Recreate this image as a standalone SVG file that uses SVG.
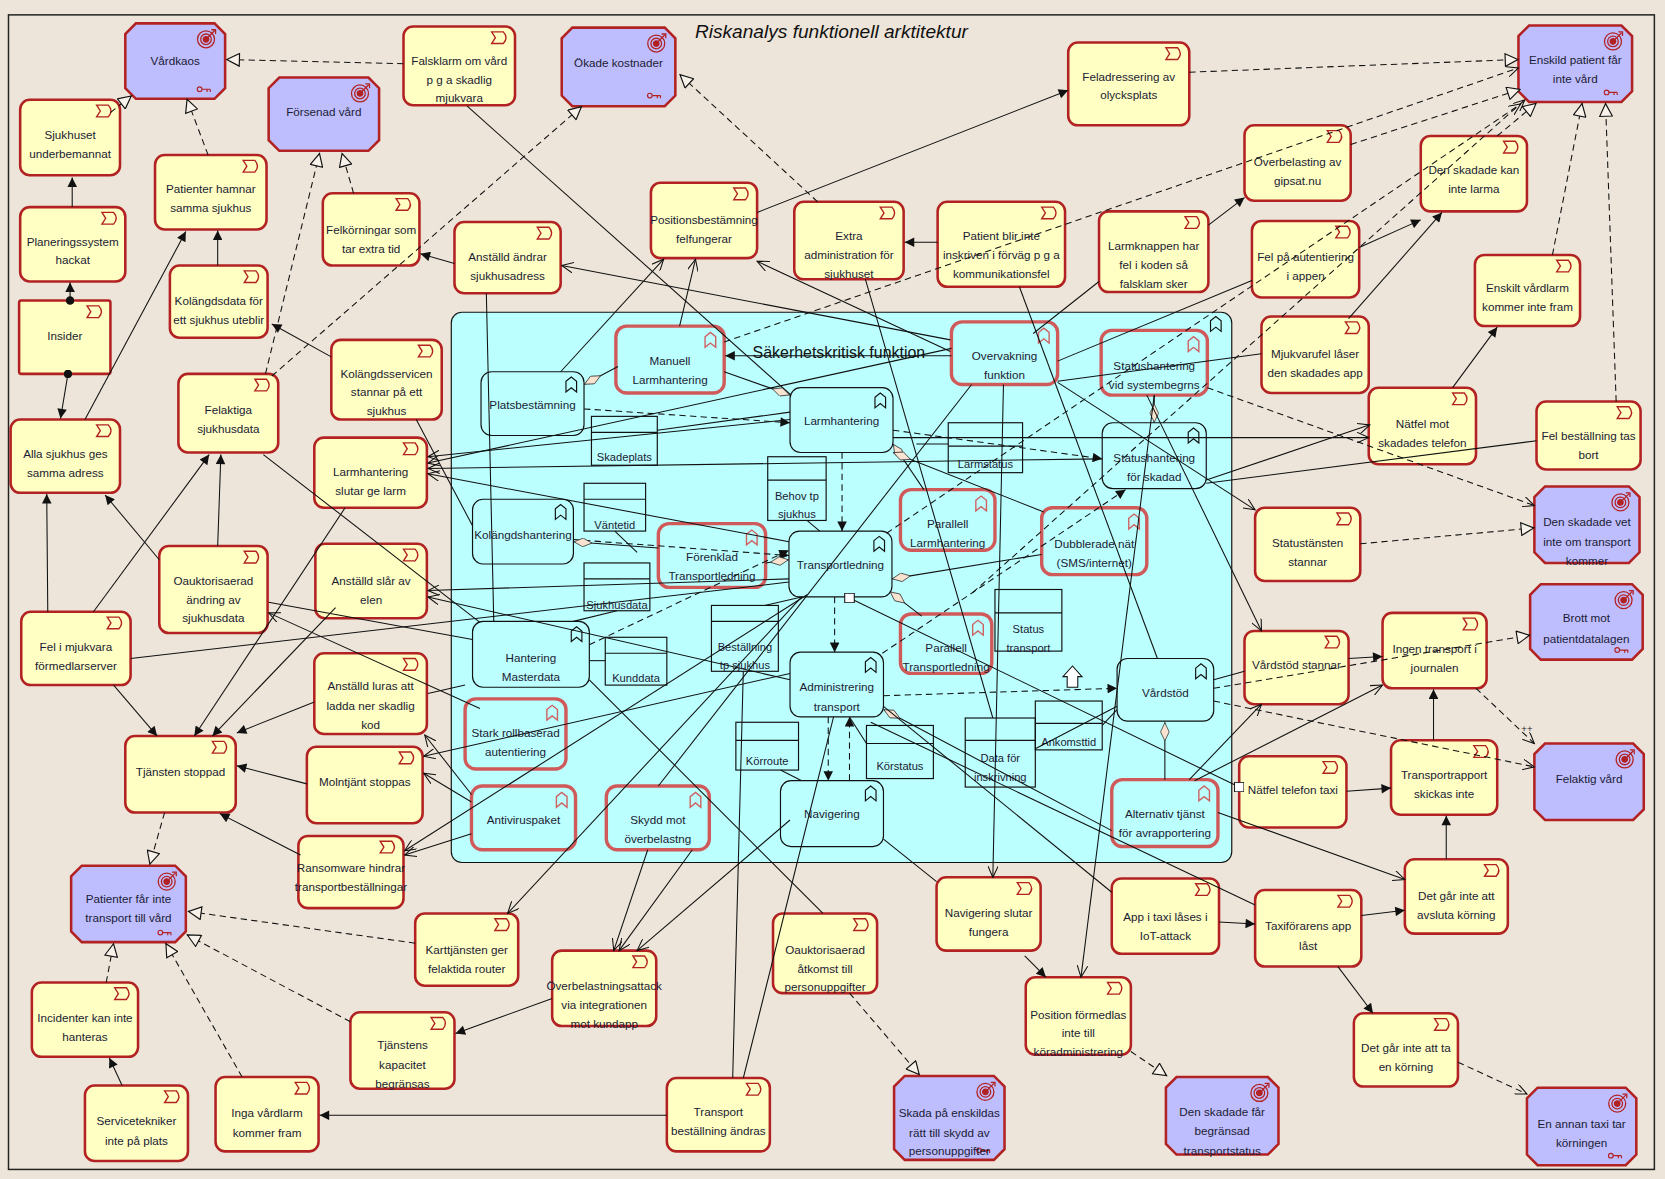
<svg xmlns="http://www.w3.org/2000/svg" width="1665" height="1179" viewBox="0 0 1665 1179">
<style>
text{font-family:"Liberation Sans",Arial,sans-serif;font-size:11px;fill:#1b1b33;text-anchor:middle}
.ttl{font-size:18px;font-style:italic;fill:#111}
.glb{font-size:15px;fill:#111}
.dt{font-size:10.5px}
.r rect{fill:#FFFFC4;stroke:#B22222;stroke-width:2.4}
.g polygon{fill:#BEBEFF;stroke:#B22222;stroke-width:2.4}
.p rect{fill:#BBFFFF;stroke:#D05A5A;stroke-width:3.2}
.f rect{fill:#BBFFFF;stroke:#111;stroke-width:1.1}
.d rect,.d path{fill:none;stroke:#111;stroke-width:1.1}
#edges path{fill:none;stroke:#111;stroke-width:1}
#edges .dsh{stroke-dasharray:6 4}
#edges .ht{marker-end:url(#ht)}
#edges .oa{marker-end:url(#oa)}
#edges .fa{marker-end:url(#fa)}
#edges .dm{marker-start:url(#dm)}
</style>
<defs>
<marker id="fa" viewBox="0 0 10 10" refX="10" refY="5" markerWidth="11" markerHeight="9" orient="auto" markerUnits="userSpaceOnUse"><path d="M0,0 L10,5 L0,10 z" fill="#111"/></marker>
<marker id="ht" viewBox="0 0 12 12" refX="12" refY="6" markerWidth="15" markerHeight="13" orient="auto" markerUnits="userSpaceOnUse"><path d="M0.5,0.5 L11.5,6 L0.5,11.5 z" fill="#F8F2EA" stroke="#111" stroke-width="1"/></marker>
<marker id="oa" viewBox="0 0 12 10" refX="11" refY="5" markerWidth="12" markerHeight="10" orient="auto" markerUnits="userSpaceOnUse"><path d="M0,0 L11,5 L0,10" fill="none" stroke="#111" stroke-width="1"/></marker>
<marker id="dm" viewBox="0 0 20 10" refX="0" refY="5" markerWidth="18" markerHeight="9" orient="auto" markerUnits="userSpaceOnUse"><path d="M0.5,5 L10,0.5 L19.5,5 L10,9.5 z" fill="#F8E2D0" stroke="#333" stroke-width="0.8"/></marker>
<marker id="dot" viewBox="0 0 10 10" refX="5" refY="5" markerWidth="8" markerHeight="8" markerUnits="userSpaceOnUse"><circle cx="5" cy="5" r="5" fill="#111"/></marker>
<marker id="sq" viewBox="0 0 10 10" refX="5" refY="5" markerWidth="10" markerHeight="10" markerUnits="userSpaceOnUse"><rect x="0.5" y="0.5" width="9" height="9" fill="#fff" stroke="#111"/></marker>
<g id="ev"><path d="M0,0 h11 q5,5.5 0,11 h-11 l3.5,-5.5 z" fill="none" stroke="#B22222" stroke-width="1.3"/></g>
<g id="tg" fill="none" stroke="#B22222" stroke-width="1.2"><circle r="8"/><circle r="5"/><circle r="2.6" fill="#B22222"/><path d="M0,0 L8,-8 M5,-9 L9,-9 L9,-5"/></g>
<g id="ky" fill="none" stroke="#B22222" stroke-width="1.1"><circle cx="-4" cy="0" r="2.2"/><path d="M-1.8,0 H6 M3,0 v2.5 M6,0 v2.5"/></g>
<g id="bmR"><path d="M0,4 L5,0 L10,4 V14 L5,10 L0,14 Z" fill="none" stroke="#D06060" stroke-width="1.3"/></g>
<g id="bmK"><path d="M0,4 L5,0 L10,4 V14 L5,10 L0,14 Z" fill="none" stroke="#111" stroke-width="1.1"/></g>
</defs>
<rect width="1665" height="1179" fill="#EDE5D9"/>
<g transform="scale(1.06186 1.06216)">
<rect x="8" y="14" width="1550" height="1087" fill="none" stroke="#222" stroke-width="1.4"/>
<text class="ttl" x="783" y="36">Riskanalys funktionell arktitektur</text>

<g id="grp-sakerhetskritisk" class="f">
<rect x="425" y="294" width="735" height="518" rx="10"/>
<use href="#bmK" x="1140" y="298"/>
<text class="glb" x="790" y="337">Säkerhetskritisk funktion</text>
</g>

<!-- Goals -->
<g id="g-vardkaos" class="g"><polygon points="128,22 202,22 212,32 212,83 202,93 128,93 118,83 118,32"/><use href="#tg" x="194" y="37"/><use href="#ky" x="192" y="84"/><text x="165" y="61">Vårdkaos</text></g>
<g id="g-forsenad" class="g"><polygon points="263,73 347,73 357,83 357,132 347,142 263,142 253,132 253,83"/><use href="#tg" x="339" y="88"/><text x="305" y="109">Försenad vård</text></g>
<g id="g-okade" class="g"><polygon points="539,26 626,26 636,36 636,90 626,100 539,100 529,90 529,36"/><use href="#tg" x="618" y="41"/><use href="#ky" x="616" y="90"/><text x="582.5" y="63">Ökade kostnader</text></g>
<g id="g-enskild" class="g"><polygon points="1440,24 1527,24 1537,34 1537,86 1527,96 1440,96 1430,86 1430,34"/><use href="#tg" x="1519" y="39"/><use href="#ky" x="1517" y="87"/><text x="1483.5" y="60">Enskild patient får</text><text x="1483.5" y="78">inte vård</text></g>
<g id="g-vetinte" class="g"><polygon points="1455,458 1534,458 1544,468 1544,520 1534,530 1455,530 1445,520 1445,468"/><use href="#tg" x="1526" y="473"/><text x="1494.5" y="495">Den skadade vet</text><text x="1494.5" y="514">inte om transport</text><text x="1494.5" y="532">kommer</text></g>
<g id="g-brott" class="g"><polygon points="1451,550 1537,550 1547,560 1547,611 1537,621 1451,621 1441,611 1441,560"/><use href="#tg" x="1529" y="565"/><use href="#ky" x="1527" y="612"/><text x="1494" y="586">Brott mot</text><text x="1494" y="605">patientdatalagen</text></g>
<g id="g-felaktigvard" class="g"><polygon points="1455,700 1538,700 1548,710 1548,762 1538,772 1455,772 1445,762 1445,710"/><use href="#tg" x="1530" y="715"/><text x="1496.5" y="737">Felaktig vård</text></g>
<g id="g-patienter" class="g"><polygon points="77,815 165,815 175,825 175,877 165,887 77,887 67,877 67,825"/><use href="#tg" x="157" y="830"/><use href="#ky" x="155" y="878"/><text x="121" y="850">Patienter får inte</text><text x="121" y="868">transport till vård</text></g>
<g id="g-skada" class="g"><polygon points="852,1013 936,1013 946,1023 946,1082 936,1092 852,1092 842,1082 842,1023"/><use href="#tg" x="928" y="1028"/><use href="#ky" x="926" y="1083"/><text x="894" y="1052">Skada på enskildas</text><text x="894" y="1070">rätt till skydd av</text><text x="894" y="1087">personuppgifter</text></g>
<g id="g-begransad" class="g"><polygon points="1108,1014 1194,1014 1204,1024 1204,1077 1194,1087 1108,1087 1098,1077 1098,1024"/><use href="#tg" x="1186" y="1029"/><text x="1151" y="1051">Den skadade får</text><text x="1151" y="1069">begränsad</text><text x="1151" y="1087">transportstatus</text></g>
<g id="g-annantaxi" class="g"><polygon points="1448,1024 1531,1024 1541,1034 1541,1087 1531,1097 1448,1097 1438,1087 1438,1034"/><use href="#tg" x="1523" y="1039"/><use href="#ky" x="1521" y="1088"/><text x="1489.5" y="1062">En annan taxi tar</text><text x="1489.5" y="1080">körningen</text></g>

<!-- Requirements / events -->
<g id="r-falsklarm" class="r"><rect x="380" y="25" width="105" height="74" rx="9"/><use href="#ev" x="463" y="30"/><text x="432.5" y="61">Falsklarm om vård</text><text x="432.5" y="79">p g a skadlig</text><text x="432.5" y="96">mjukvara</text></g>
<g id="r-sjukhuset" class="r"><rect x="19" y="94" width="94" height="71" rx="9"/><use href="#ev" x="91" y="99"/><text x="66" y="131">Sjukhuset</text><text x="66" y="149">underbemannat</text></g>
<g id="r-patienterhamnar" class="r"><rect x="146" y="146" width="105" height="70" rx="9"/><use href="#ev" x="229" y="151"/><text x="198.5" y="182">Patienter hamnar</text><text x="198.5" y="200">samma sjukhus</text></g>
<g id="r-planering" class="r"><rect x="19" y="195" width="99" height="70" rx="9"/><use href="#ev" x="96" y="200"/><text x="68.5" y="232">Planeringssystem</text><text x="68.5" y="249">hackat</text></g>
<g id="r-felkorningar" class="r"><rect x="304" y="182" width="91" height="68" rx="9"/><use href="#ev" x="373" y="187"/><text x="349.5" y="220">Felkörningar som</text><text x="349.5" y="238">tar extra tid</text></g>
<g id="r-anstalldandrar" class="r"><rect x="428" y="209" width="100" height="67" rx="9"/><use href="#ev" x="506" y="214"/><text x="478" y="246">Anställd ändrar</text><text x="478" y="264">sjukhusadress</text></g>
<g id="r-kolangdsdata" class="r"><rect x="160" y="250" width="92" height="68" rx="9"/><use href="#ev" x="230" y="255"/><text x="206" y="287">Kolängdsdata för</text><text x="206" y="305">ett sjukhus uteblir</text></g>
<g id="r-insider" class="r"><rect x="18" y="283" width="86" height="69" rx="2"/><use href="#ev" x="82" y="288"/><text x="61" y="320">Insider</text></g>
<g id="r-kolangdsservicen" class="r"><rect x="312" y="320" width="104" height="75" rx="9"/><use href="#ev" x="394" y="325"/><text x="364" y="356">Kolängdsservicen</text><text x="364" y="373">stannar på ett</text><text x="364" y="391">sjukhus</text></g>
<g id="r-felaktiga" class="r"><rect x="168" y="352" width="94" height="74" rx="9"/><use href="#ev" x="240" y="357"/><text x="215" y="390">Felaktiga</text><text x="215" y="408">sjukhusdata</text></g>
<g id="r-allasjukhus" class="r"><rect x="10" y="395" width="103" height="69" rx="9"/><use href="#ev" x="91" y="400"/><text x="61.5" y="431">Alla sjukhus ges</text><text x="61.5" y="449">samma adress</text></g>
<g id="r-larmslutar" class="r"><rect x="296" y="412" width="106" height="66" rx="9"/><use href="#ev" x="380" y="417"/><text x="349" y="448">Larmhantering</text><text x="349" y="466">slutar ge larm</text></g>
<g id="r-oauktandring" class="r"><rect x="150" y="514" width="102" height="82" rx="9"/><use href="#ev" x="230" y="519"/><text x="201" y="551">Oauktorisaerad</text><text x="201" y="569">ändring av</text><text x="201" y="586">sjukhusdata</text></g>
<g id="r-elen" class="r"><rect x="297" y="512" width="105" height="70" rx="9"/><use href="#ev" x="380" y="517"/><text x="349.5" y="551">Anställd slår av</text><text x="349.5" y="569">elen</text></g>
<g id="r-felmjukvara" class="r"><rect x="20" y="576" width="103" height="69" rx="9"/><use href="#ev" x="101" y="581"/><text x="71.5" y="613">Fel i mjukvara</text><text x="71.5" y="631">förmedlarserver</text></g>
<g id="r-luras" class="r"><rect x="296" y="615" width="106" height="76" rx="9"/><use href="#ev" x="380" y="620"/><text x="349" y="650">Anställd luras att</text><text x="349" y="668">ladda ner skadlig</text><text x="349" y="686">kod</text></g>
<g id="r-tjanstenstoppad" class="r"><rect x="118" y="693" width="104" height="72" rx="9"/><use href="#ev" x="200" y="698"/><text x="170" y="731">Tjänsten stoppad</text></g>
<g id="r-molntjant" class="r"><rect x="289" y="703" width="109" height="72" rx="9"/><use href="#ev" x="376" y="708"/><text x="343.5" y="740">Molntjänt stoppas</text></g>
<g id="r-ransomware" class="r"><rect x="281" y="787" width="99" height="68" rx="9"/><use href="#ev" x="358" y="792"/><text x="330.5" y="821">Ransomware hindrar</text><text x="330.5" y="839">transportbeställningar</text></g>
<g id="r-karttjansten" class="r"><rect x="391" y="860" width="97" height="68" rx="9"/><use href="#ev" x="466" y="865"/><text x="439.5" y="898">Karttjänsten ger</text><text x="439.5" y="916">felaktida router</text></g>
<g id="r-overbelastningsattack" class="r"><rect x="520" y="895" width="98" height="71" rx="9"/><use href="#ev" x="596" y="900"/><text x="569" y="932">Överbelastningsattack</text><text x="569" y="950">via integrationen</text><text x="569" y="968">mot kundapp</text></g>
<g id="r-incidenter" class="r"><rect x="30" y="925" width="100" height="70" rx="9"/><use href="#ev" x="108" y="930"/><text x="80" y="962">Incidenter kan inte</text><text x="80" y="980">hanteras</text></g>
<g id="r-kapacitet" class="r"><rect x="330" y="953" width="98" height="72" rx="9"/><use href="#ev" x="406" y="958"/><text x="379" y="988">Tjänstens</text><text x="379" y="1006">kapacitet</text><text x="379" y="1024">begränsas</text></g>
<g id="r-servicetekniker" class="r"><rect x="80" y="1022" width="97" height="71" rx="9"/><use href="#ev" x="155" y="1027"/><text x="128.5" y="1059">Servicetekniker</text><text x="128.5" y="1078">inte på plats</text></g>
<g id="r-ingavardlarm" class="r"><rect x="203" y="1014" width="97" height="70" rx="9"/><use href="#ev" x="278" y="1019"/><text x="251.5" y="1052">Inga vårdlarm</text><text x="251.5" y="1070">kommer fram</text></g>
<g id="r-transportbest" class="r"><rect x="628" y="1015" width="97" height="69" rx="9"/><use href="#ev" x="703" y="1020"/><text x="676.5" y="1051">Transport</text><text x="676.5" y="1069">beställning ändras</text></g>
<g id="r-oauktatkomst" class="r"><rect x="728" y="860" width="98" height="75" rx="9"/><use href="#ev" x="804" y="865"/><text x="777" y="898">Oauktorisaerad</text><text x="777" y="916">åtkomst till</text><text x="777" y="933">personuppgifter</text></g>
<g id="r-navslutar" class="r"><rect x="882" y="826" width="98" height="69" rx="9"/><use href="#ev" x="958" y="831"/><text x="931" y="863">Navigering slutar</text><text x="931" y="881">fungera</text></g>
<g id="r-positionformedlas" class="r"><rect x="966" y="920" width="99" height="73" rx="9"/><use href="#ev" x="1043" y="925"/><text x="1015.5" y="959">Position förmedlas</text><text x="1015.5" y="976">inte till</text><text x="1015.5" y="994">köradministrering</text></g>
<g id="r-positionsbest" class="r"><rect x="613" y="172" width="100" height="71" rx="9"/><use href="#ev" x="691" y="177"/><text x="663" y="211">Positionsbestämning</text><text x="663" y="229">felfungerar</text></g>
<g id="r-extraadmin" class="r"><rect x="748" y="190" width="103" height="73" rx="9"/><use href="#ev" x="829" y="195"/><text x="799.5" y="226">Extra</text><text x="799.5" y="244">administration för</text><text x="799.5" y="262">sjukhuset</text></g>
<g id="r-patientblirinte" class="r"><rect x="883" y="190" width="120" height="80" rx="9"/><use href="#ev" x="981" y="195"/><text x="943" y="226">Patient blir inte</text><text x="943" y="244">inskriven i förväg p g a</text><text x="943" y="262">kommunikationsfel</text></g>
<g id="r-feladressering" class="r"><rect x="1006" y="40" width="114" height="78" rx="9"/><use href="#ev" x="1098" y="45"/><text x="1063" y="76">Feladressering av</text><text x="1063" y="93">olycksplats</text></g>
<g id="r-larmknappen" class="r"><rect x="1035" y="199" width="103" height="76" rx="9"/><use href="#ev" x="1116" y="204"/><text x="1086.5" y="235">Larmknappen har</text><text x="1086.5" y="253">fel i koden så</text><text x="1086.5" y="271">falsklam sker</text></g>
<g id="r-gipsat" class="r"><rect x="1172" y="118" width="100" height="71" rx="9"/><use href="#ev" x="1250" y="123"/><text x="1222" y="156">Överbelasting av</text><text x="1222" y="174">gipsat.nu</text></g>
<g id="r-autentiering" class="r"><rect x="1179" y="208" width="101" height="72" rx="9"/><use href="#ev" x="1258" y="213"/><text x="1229.5" y="246">Fel på autentiering</text><text x="1229.5" y="264">i appen</text></g>
<g id="r-kaninte" class="r"><rect x="1338" y="128" width="100" height="71" rx="9"/><use href="#ev" x="1416" y="133"/><text x="1388" y="164">Den skadade kan</text><text x="1388" y="182">inte larma</text></g>
<g id="r-enskiltlarm" class="r"><rect x="1389" y="240" width="99" height="67" rx="9"/><use href="#ev" x="1466" y="245"/><text x="1438.5" y="275">Enskilt vårdlarm</text><text x="1438.5" y="293">kommer inte fram</text></g>
<g id="r-mjukvarufel" class="r"><rect x="1188" y="298" width="101" height="72" rx="9"/><use href="#ev" x="1267" y="303"/><text x="1238.5" y="337">Mjukvarufel låser</text><text x="1238.5" y="355">den skadades app</text></g>
<g id="r-natfelskadad" class="r"><rect x="1289" y="365" width="101" height="72" rx="9"/><use href="#ev" x="1368" y="370"/><text x="1339.5" y="403">Nätfel mot</text><text x="1339.5" y="421">skadades telefon</text></g>
<g id="r-felbestallning" class="r"><rect x="1447" y="378" width="98" height="64" rx="9"/><use href="#ev" x="1523" y="383"/><text x="1496" y="414">Fel beställning tas</text><text x="1496" y="432">bort</text></g>
<g id="r-statustjansten" class="r"><rect x="1182" y="478" width="99" height="69" rx="9"/><use href="#ev" x="1259" y="483"/><text x="1231.5" y="515">Statustänsten</text><text x="1231.5" y="533">stannar</text></g>
<g id="r-vardstodstannar" class="r"><rect x="1172" y="594" width="98" height="69" rx="9"/><use href="#ev" x="1248" y="599"/><text x="1221" y="630">Vårdstöd stannar</text></g>
<g id="r-ingentransport" class="r"><rect x="1302" y="577" width="98" height="71" rx="9"/><use href="#ev" x="1378" y="582"/><text x="1351" y="615">Ingen transport i</text><text x="1351" y="633">journalen</text></g>
<g id="r-natfeltaxi" class="r"><rect x="1167" y="712" width="101" height="67" rx="9"/><use href="#ev" x="1246" y="717"/><text x="1217.5" y="748">Nätfel telefon taxi</text></g>
<g id="r-transportrapport" class="r"><rect x="1310" y="697" width="100" height="70" rx="9"/><use href="#ev" x="1388" y="702"/><text x="1360" y="733">Transportrapport</text><text x="1360" y="751">skickas inte</text></g>
<g id="r-avsluta" class="r"><rect x="1323" y="809" width="97" height="70" rx="9"/><use href="#ev" x="1398" y="814"/><text x="1371.5" y="847">Det går inte att</text><text x="1371.5" y="865">avsluta körning</text></g>
<g id="r-appiot" class="r"><rect x="1047" y="827" width="101" height="71" rx="9"/><use href="#ev" x="1126" y="832"/><text x="1097.5" y="867">App i taxi låses i</text><text x="1097.5" y="885">IoT-attack</text></g>
<g id="r-taxiforaren" class="r"><rect x="1182" y="838" width="100" height="72" rx="9"/><use href="#ev" x="1260" y="843"/><text x="1232" y="876">Taxiförarens app</text><text x="1232" y="894">låst</text></g>
<g id="r-takorning" class="r"><rect x="1275" y="954" width="98" height="69" rx="9"/><use href="#ev" x="1351" y="959"/><text x="1324" y="990">Det går inte att ta</text><text x="1324" y="1008">en körning</text></g>

<!-- Principles inside group -->
<g id="p-manuell" class="p"><rect x="580" y="307" width="102" height="63" rx="10"/><use href="#bmR" x="664" y="313"/><text x="631" y="344">Manuell</text><text x="631" y="362">Larmhantering</text></g>
<g id="p-overvakning" class="p"><rect x="896" y="303" width="100" height="59" rx="10"/><use href="#bmR" x="978" y="309"/><text x="946" y="339">Overvakning</text><text x="946" y="357">funktion</text></g>
<g id="p-statusvid" class="p"><rect x="1037" y="311" width="100" height="61" rx="10"/><use href="#bmR" x="1119" y="317"/><text x="1087" y="348">Statushantering</text><text x="1087" y="366">vid systembegrns</text></g>
<g id="p-parallelllarm" class="p"><rect x="848" y="461" width="89" height="57" rx="10"/><use href="#bmR" x="919" y="467"/><text x="892.5" y="497">Parallell</text><text x="892.5" y="515">Larmhantering</text></g>
<g id="p-dubblerade" class="p"><rect x="981" y="478" width="99" height="63" rx="10"/><use href="#bmR" x="1063" y="484"/><text x="1030.5" y="516">Dubblerade nät</text><text x="1030.5" y="534">(SMS/internet)</text></g>
<g id="p-forenklad" class="p"><rect x="620" y="493" width="101" height="60" rx="10"/><use href="#bmR" x="703" y="499"/><text x="670.5" y="528">Förenklad</text><text x="670.5" y="546">Transportledning</text></g>
<g id="p-paralleltransport" class="p"><rect x="848" y="578" width="86" height="56" rx="10"/><use href="#bmR" x="916" y="584"/><text x="891" y="614">Parallell</text><text x="891" y="632">Transportledning</text></g>
<g id="p-stark" class="p"><rect x="438" y="658" width="95" height="66" rx="10"/><use href="#bmR" x="515" y="664"/><text x="485.5" y="694">Stark rollbaserad</text><text x="485.5" y="712">autentiering</text></g>
<g id="p-antivirus" class="p"><rect x="444" y="740" width="98" height="60" rx="10"/><use href="#bmR" x="524" y="746"/><text x="493" y="776">Antiviruspaket</text></g>
<g id="p-skydd" class="p"><rect x="571" y="740" width="97" height="60" rx="10"/><use href="#bmR" x="650" y="746"/><text x="619.5" y="776">Skydd mot</text><text x="619.5" y="794">överbelastng</text></g>
<g id="p-alternativ" class="p"><rect x="1047" y="734" width="100" height="63" rx="10"/><use href="#bmR" x="1129" y="740"/><text x="1097" y="770">Alternativ tjänst</text><text x="1097" y="788">för avrapportering</text></g>

<!-- Functions -->
<g id="f-platsbestamning" class="f"><rect x="453" y="350" width="97" height="60" rx="10"/><use href="#bmK" x="533" y="355"/><text x="501.5" y="385">Platsbestämning</text></g>
<g id="f-larmhantering" class="f"><rect x="744" y="365" width="97" height="61" rx="10"/><use href="#bmK" x="824" y="370"/><text x="792.5" y="400">Larmhantering</text></g>
<g id="f-kolangdshantering" class="f"><rect x="445" y="470" width="95" height="61" rx="10"/><use href="#bmK" x="523" y="475"/><text x="492.5" y="507">Kolängdshantering</text></g>
<g id="f-transportledning" class="f"><rect x="743" y="500" width="97" height="62" rx="10"/><use href="#bmK" x="823" y="505"/><text x="791.5" y="536">Transportledning</text></g>
<g id="f-masterdata" class="f"><rect x="445" y="585" width="110" height="62" rx="10"/><use href="#bmK" x="538" y="590"/><text x="500" y="623">Hantering</text><text x="500" y="641">Masterdata</text></g>
<g id="f-administrering" class="f"><rect x="744" y="614" width="88" height="61" rx="10"/><use href="#bmK" x="815" y="619"/><text x="788" y="651">Administrering</text><text x="788" y="669">transport</text></g>
<g id="f-navigering" class="f"><rect x="735" y="735" width="97" height="62" rx="10"/><use href="#bmK" x="815" y="740"/><text x="783.5" y="770">Navigering</text></g>
<g id="f-vardstod" class="f"><rect x="1052" y="620" width="91" height="59" rx="10"/><use href="#bmK" x="1126" y="625"/><text x="1097.5" y="656">Vårdstöd</text></g>
<g id="f-statusskadad" class="f"><rect x="1038" y="398" width="98" height="62" rx="10"/><use href="#bmK" x="1119" y="403"/><text x="1087" y="435">Statushantering</text><text x="1087" y="453">för skadad</text></g>

<!-- Data objects -->
<g id="d-skadeplats" class="d"><rect x="557" y="392" width="62" height="46"/><path d="M557,407 H619"/><text class="dt" x="588" y="434">Skadeplats</text></g>
<g id="d-vantetid" class="d"><rect x="550" y="455" width="58" height="45"/><path d="M550,470 H608"/><text class="dt" x="579" y="498">Väntetid</text></g>
<g id="d-sjukhusdata" class="d"><rect x="550" y="530" width="62" height="45"/><path d="M550,545 H612"/><text class="dt" x="581" y="573">Sjukhusdata</text></g>
<g id="d-kunddata" class="d"><rect x="570" y="600" width="58" height="45"/><path d="M570,615 H628"/><text class="dt" x="599" y="642">Kunddata</text></g>
<g id="d-bestallning" class="d"><rect x="670" y="570" width="63" height="62"/><path d="M670,585 H733"/><text class="dt" x="701.5" y="613">Beställning</text><text class="dt" x="701.5" y="630">tp sjukhus</text></g>
<g id="d-behov" class="d"><rect x="723" y="430" width="55" height="60"/><path d="M723,452 H778"/><text class="dt" x="750.5" y="471">Behov tp</text><text class="dt" x="750.5" y="488">sjukhus</text></g>
<g id="d-larmstatus" class="d"><rect x="893" y="398" width="70" height="47"/><path d="M893,420 H963"/><text class="dt" x="928" y="441">Larmstatus</text></g>
<g id="d-statustransport" class="d"><rect x="937" y="555" width="63" height="58"/><path d="M937,577 H1000"/><text class="dt" x="968.5" y="596">Status</text><text class="dt" x="968.5" y="614">transport</text></g>
<g id="d-datainskrivning" class="d"><rect x="909" y="676" width="66" height="65"/><path d="M909,697 H975"/><text class="dt" x="942" y="717">Data för</text><text class="dt" x="942" y="735">inskrivning</text></g>
<g id="d-ankomsttid" class="d"><rect x="975" y="660" width="63" height="46"/><path d="M975,681 H1038"/><text class="dt" x="1006.5" y="702">Ankomsttid</text></g>
<g id="d-korroute" class="d"><rect x="693" y="680" width="59" height="45"/><path d="M693,697 H752"/><text class="dt" x="722.5" y="720">Körroute</text></g>
<g id="d-korstatus" class="d"><rect x="816" y="683" width="63" height="50"/><path d="M816,700 H879"/><text class="dt" x="847.5" y="725">Körstatus</text></g>

<polygon id="junction-up" points="1005,647 1005,637 1001,637 1010,627 1019,637 1015,637 1015,647" fill="#fff" stroke="#111" stroke-width="1"/>

<g id="edges">
<!-- realization -->
<path class="dsh ht" d="M380,60 L213,56"/>
<path class="dsh ht" d="M104,106 L124,90"/>
<path class="dsh ht" d="M196,146 L176,93"/>
<path class="dsh ht" d="M333,182 L322,144"/>
<path class="dsh ht" d="M250,352 L301,144"/>
<path class="dsh ht" d="M256,354 L548,100"/>
<path class="dsh ht" d="M770,190 L640,70"/>
<path class="dsh ht" d="M1120,68 L1430,56"/>
<path class="dsh ht" d="M1272,136 L1432,84"/>
<path class="dsh ht" d="M1410,128 L1447,97"/>
<path class="dsh ht" d="M1462,240 L1490,97"/>
<path class="dsh ht" d="M1522,378 L1512,97"/>
<path class="dsh ht" d="M1281,512 L1445,497"/>
<path class="dsh ht" d="M1143,648 L1441,598"/>
<path class="dsh ht" d="M155,765 L141,814"/>
<path class="dsh ht" d="M100,925 L107,888"/>
<path class="dsh ht" d="M228,1014 L156,888"/>
<path class="dsh ht" d="M330,962 L176,880"/>
<path class="dsh ht" d="M391,888 L177,858"/>
<path class="dsh ht" d="M800,935 L866,1012"/>
<path class="dsh ht" d="M1065,990 L1099,1013"/>
<!-- influence -->
<path class="dsh oa" d="M682,322 L1430,64"/>
<path class="dsh oa" d="M835,502 L1432,98"/>
<path class="dsh oa" d="M916,558 L1436,94"/>
<path class="dsh oa" d="M1137,365 L1445,476"/>
<path class="dsh oa" d="M1143,660 L1445,722"/>
<path class="dsh oa" d="M1390,648 L1445,700"/>
<path class="dsh oa" d="M1373,1000 L1438,1030"/>
<!-- flow -->
<path class="dsh fa" d="M550,385 L744,398"/>
<path class="dsh fa" d="M793,426 L793,500"/>
<path class="dsh fa" d="M841,405 L1038,432"/>
<path class="dsh fa" d="M540,508 L743,523"/>
<path class="dsh fa" d="M786,562 L786,614"/>
<path class="dsh fa" d="M780,675 L780,735"/>
<path class="dsh fa" d="M800,735 L800,675"/>
<path class="dsh fa" d="M832,655 L1052,648"/>
<path class="dsh fa" d="M555,607 L743,518"/>
<path class="dsh fa" d="M831,615 L1060,461"/>
<!-- aggregation -->
<path class="dm" d="M550,362 L582,345"/>
<path class="dm" d="M744,372 L682,350"/>
<path class="dm" d="M1087,398 L1087,372"/>
<path class="dm" d="M841,418 L870,461"/>
<path class="dm" d="M841,426 L983,482"/>
<path class="dm" d="M743,527 L721,530"/>
<path class="dm" d="M840,545 L981,522"/>
<path class="dm" d="M838,557 L868,580"/>
<path class="dm" d="M832,668 L1047,782"/>
<path class="dm" d="M1097,680 L1097,734"/>
<path class="dm" d="M540,510 L620,516"/>
<!-- triggering -->
<path class="fa" d="M68,195 L68,167"/>
<path class="fa" d="M66,283 L66,266" marker-start="url(#dot)"/>
<path class="fa" d="M64,352 L57,394" marker-start="url(#dot)"/>
<path class="fa" d="M205,250 L205,217"/>
<path class="fa" d="M80,395 L175,218"/>
<path class="fa" d="M428,248 L396,239"/>
<path class="fa" d="M312,336 L256,305"/>
<path class="fa" d="M45,576 L44,465"/>
<path class="fa" d="M150,527 L99,466"/>
<path class="fa" d="M88,576 L197,428"/>
<path class="fa" d="M205,514 L208,428"/>
<path class="fa" d="M107,645 L148,693"/>
<path class="fa" d="M325,478 L183,693"/>
<path class="fa" d="M316,572 L200,693"/>
<path class="fa" d="M296,661 L223,690"/>
<path class="fa" d="M289,738 L223,721"/>
<path class="fa" d="M283,805 L207,766"/>
<path class="fa" d="M115,1022 L103,996"/>
<path class="fa" d="M628,1050 L301,1050"/>
<path class="fa" d="M520,940 L429,973"/>
<path class="fa" d="M713,200 L1006,85"/>
<path class="fa" d="M896,335 L683,335"/>
<path class="fa" d="M883,228 L852,228"/>
<path class="fa" d="M1138,212 L1172,186"/>
<path class="fa" d="M1280,233 L1338,207"/>
<path class="fa" d="M1270,300 L1358,200"/>
<path class="fa" d="M1368,365 L1410,308"/>
<path class="fa" d="M1270,620 L1302,618"/>
<path class="fa" d="M1268,745 L1310,742"/>
<path class="fa" d="M1362,809 L1362,768"/>
<path class="fa" d="M1350,697 L1350,649"/>
<path class="fa" d="M1148,868 L1182,870"/>
<path class="fa" d="M1282,862 L1323,857"/>
<path class="fa" d="M1260,910 L1293,954"/>
<path class="fa" d="M965,900 L985,920"/>
<!-- open arrows -->
<path class="oa" d="M895,331 L713,246"/>
<path class="oa" d="M640,307 L655,244"/>
<path class="oa" d="M528,350 L625,244"/>
<path class="oa" d="M895,320 L529,250"/>
<path class="oa" d="M744,395 L403,430"/>
<path class="oa" d="M896,328 L403,436"/>
<path class="oa" d="M1038,432 L403,441"/>
<path class="oa" d="M743,510 L403,446"/>
<path class="oa" d="M743,545 L403,556"/>
<path class="oa" d="M744,640 L403,562"/>
<path class="oa" d="M452,667 L253,577"/>
<path class="oa" d="M444,755 L399,728"/>
<path class="oa" d="M744,634 L399,712"/>
<path class="oa" d="M444,748 L400,692"/>
<path class="oa" d="M444,785 L381,805"/>
<path class="oa" d="M760,560 L381,801"/>
<path class="oa" d="M755,562 L478,860"/>
<path class="oa" d="M610,800 L578,895"/>
<path class="oa" d="M652,800 L583,895"/>
<path class="oa" d="M744,772 L600,895"/>
<path class="oa" d="M945,362 L935,826"/>
<path class="oa" d="M1087,372 L1018,920"/>
<path class="oa" d="M1125,735 L1302,645"/>
<path class="oa" d="M1147,765 L1323,828"/>
<path class="oa" d="M996,360 L1182,480"/>
<path class="oa" d="M1080,372 L1188,594"/>
<path class="oa" d="M841,412 L1289,412"/>
<path class="oa" d="M1136,452 L1290,400"/>
<path class="oa" d="M1120,734 L1188,663"/>
<!-- plain associations / access -->
<path d="M440,100 L745,372"/>
<path d="M458,276 L465,585"/>
<path d="M248,428 L452,586"/>
<path d="M253,567 L445,602"/>
<path d="M123,620 L743,548"/>
<path d="M392,395 L445,495"/>
<path d="M403,653 L438,645"/>
<path d="M555,640 L775,860"/>
<path d="M832,790 L882,830"/>
<path d="M690,1015 L700,632"/>
<path d="M700,1015 L785,675"/>
<path d="M1143,640 L1172,632"/>
<path d="M800,563 L1167,741" marker-start="url(#sq)" marker-end="url(#sq)"/>
<path d="M832,665 L1047,840"/>
<path d="M820,680 L1182,852"/>
<path d="M815,263 L935,676"/>
<path d="M960,270 L1090,620"/>
<path d="M1035,265 L973,314"/>
<path d="M1179,264 L996,340"/>
<path d="M1188,333 L996,359"/>
<path d="M1447,415 L1136,455"/>
<path d="M620,740 L915,362"/>
<path d="M619,405 L744,388"/>
<path d="M579,500 L600,520"/>
<path d="M760,490 L772,500"/>
<path d="M863,418 L893,418"/>
<path d="M975,705 L1052,665"/>
<path d="M1038,683 L1052,668"/>
<path d="M735,725 L755,735"/>
<path d="M816,700 L800,675"/>
<path d="M570,622 L555,622"/>
<path d="M581,575 L540,585"/>
<path d="M720,570 L755,562"/>
<text x="1438" y="689" style="font-size:9px">++</text>
</g>
</g>
</svg>
